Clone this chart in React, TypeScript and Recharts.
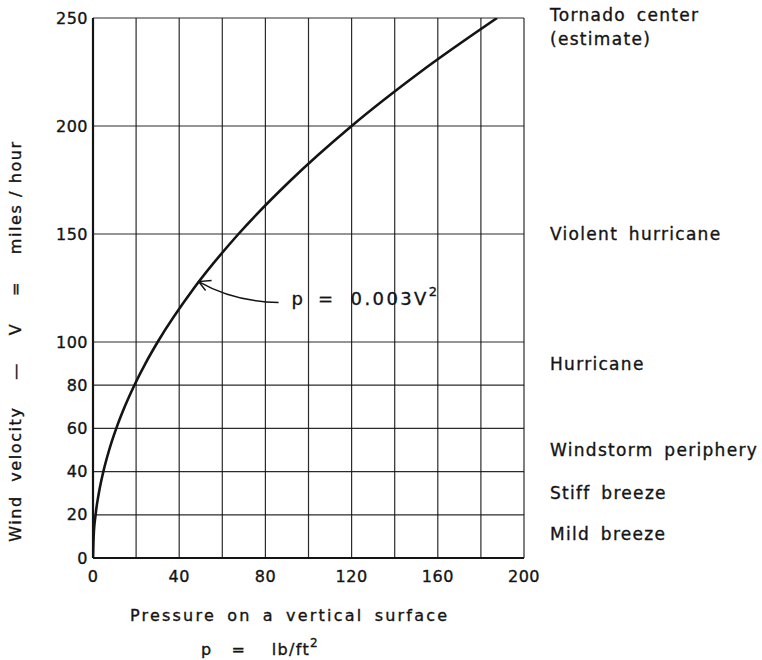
import React from 'react';
import { LineChart, Line, XAxis, YAxis, CartesianGrid, ReferenceDot } from 'recharts';

// Curve: pressure (lb/ft²) vs wind velocity (mph)
const pressure = [0, 0.3, 1.2, 2.7, 4.8, 7.5, 10.8, 14.7, 19.2, 24.3, 30, 46.9, 67.5, 91.9, 120, 151.9, 187.5];
const velocity = [0, 10, 20, 30, 40, 50, 60, 70, 80, 90, 100, 125, 150, 175, 200, 225, 250];

const xTicks = [0, 20, 40, 60, 80, 100, 120, 140, 160, 180, 200];
const xLabelTicks = [0, 40, 80, 120, 160, 200];
const yTicks = [0, 20, 40, 60, 80, 100, 150, 200, 250];

const zoneValues = [11, 30, 50, 90, 150, 246];
const zoneNames = ['Mild breeze', 'Stiff breeze', 'Windstorm periphery', 'Hurricane', 'Violent hurricane', 'Tornado center|(estimate)'];

const arrowTipP = 49;
const arrowTipV = 128;

const data = pressure.map((p, i) => ({ p, v: velocity[i] }));

const FONT = '"DejaVu Sans", sans-serif';
const INK = '#141414';
const HEAVY = { stroke: INK, strokeWidth: 0.35 };

const ZoneLabel = (props: any) => {
  const { cx, cy, name } = props;
  if (cx == null || cy == null) return <g />;
  const lines = String(name).split('|');
  const lineGap = 24;
  const startY = cy - ((lines.length - 1) * lineGap) / 2;
  return (
    <g>
      {lines.map((ln: string, i: number) => (
        <text
          key={i}
          x={cx + 26}
          y={startY + i * lineGap}
          dy="0.36em"
          fill={INK}
          {...HEAVY}
          fontSize={17}
          fontFamily={FONT}
          letterSpacing={1.3}
          wordSpacing={4}
          textAnchor="start"
        >
          {ln}
        </text>
      ))}
    </g>
  );
};

const XTitle = (props: any) => {
  const vb = props.viewBox || { x: 93, y: 558 };
  return (
    <g>
      <text x={vb.x + 37} y={vb.y + 63} fill={INK} {...HEAVY} fontSize={16} fontFamily={FONT} letterSpacing={2.2} wordSpacing={4}>
        Pressure on a vertical surface
      </text>
      <text x={vb.x + 108} y={vb.y + 97} fill={INK} {...HEAVY} fontSize={16} fontFamily={FONT} letterSpacing={1.3} style={{ whiteSpace: 'pre' }}>
        {'p   =    lb/ft'}
        <tspan dy={-8} fontSize={12}>2</tspan>
      </text>
    </g>
  );
};

const YTitle = () => {
  const cx = 15;
  const cy = 341;
  return (
    <text
      x={cx}
      y={cy}
      transform={`rotate(-90 ${cx} ${cy})`}
      textAnchor="middle"
      dy="0.36em"
      fill={INK}
      {...HEAVY}
      fontSize={16}
      fontFamily={FONT}
      letterSpacing={1.6}
      style={{ whiteSpace: 'pre' }}
    >
      {'Wind  velocity    —    V    =    miles / hour'}
    </text>
  );
};

const ArrowNote = (props: any) => {
  const { cx, cy } = props;
  if (cx == null || cy == null) return <g />;
  return (
    <g>
      <path d={`M ${cx + 80} ${cy + 21} Q ${cx + 35} ${cy + 20} ${cx} ${cy}`} fill="none" stroke={INK} strokeWidth={1.4} />
      <path d={`M ${cx + 13} ${cy - 1} L ${cx} ${cy} L ${cx + 7} ${cy + 9}`} fill="none" stroke={INK} strokeWidth={1.4} />
      <text x={cx + 93} y={cy + 23} fill={INK} {...HEAVY} fontSize={18} fontFamily={FONT}>p</text>
      <text x={cx + 127} y={cy + 23} fill={INK} {...HEAVY} fontSize={18} fontFamily={FONT} textAnchor="middle">=</text>
      <text x={cx + 152} y={cy + 23} fill={INK} {...HEAVY} fontSize={18} fontFamily={FONT} letterSpacing={2.4}>
        0.003V
        <tspan dy={-9} fontSize={13}>2</tspan>
      </text>
    </g>
  );
};

export default function App() {
  return (
    <div style={{ position: 'absolute', left: 0, top: 0, background: '#fff' }}>
      <LineChart width={762} height={660} data={data} margin={{ top: 18, right: 238, bottom: 0, left: 0 }}>
        <CartesianGrid stroke={INK} strokeWidth={1.2} strokeOpacity={0.9} />
        <XAxis
          dataKey="p"
          type="number"
          domain={[0, 200]}
          ticks={xTicks}
          interval={0}
          allowDataOverflow
          height={102}
          axisLine={{ stroke: INK, strokeWidth: 2.2 }}
          tickLine={false}
          tickSize={0}
          tickMargin={13}
          tick={{ fill: INK, ...HEAVY, fontSize: 16, fontFamily: FONT, letterSpacing: 0.5 }}
          tickFormatter={(v: number) => (xLabelTicks.includes(v) ? String(v) : '')}
          label={<XTitle />}
        />
        <YAxis
          type="number"
          domain={[0, 250]}
          ticks={yTicks}
          interval={0}
          allowDataOverflow
          width={93}
          axisLine={{ stroke: INK, strokeWidth: 2.2 }}
          tickLine={false}
          tickSize={0}
          tickMargin={5}
          tick={{ fill: INK, ...HEAVY, fontSize: 16, fontFamily: FONT, letterSpacing: 0.5 }}
          label={<YTitle />}
        />
        <Line
          dataKey="v"
          type="monotone"
          stroke={INK}
          strokeWidth={2.6}
          dot={false}
          isAnimationActive={false}
        />
        <ReferenceDot x={arrowTipP} y={arrowTipV} r={0} shape={(p: any) => <ArrowNote {...p} />} />
        {zoneValues.map((v, i) => (
          <ReferenceDot
            key={i}
            x={200}
            y={v}
            r={0}
            ifOverflow="visible"
            shape={(p: any) => <ZoneLabel {...p} name={zoneNames[i]} />}
          />
        ))}
      </LineChart>
    </div>
  );
}
